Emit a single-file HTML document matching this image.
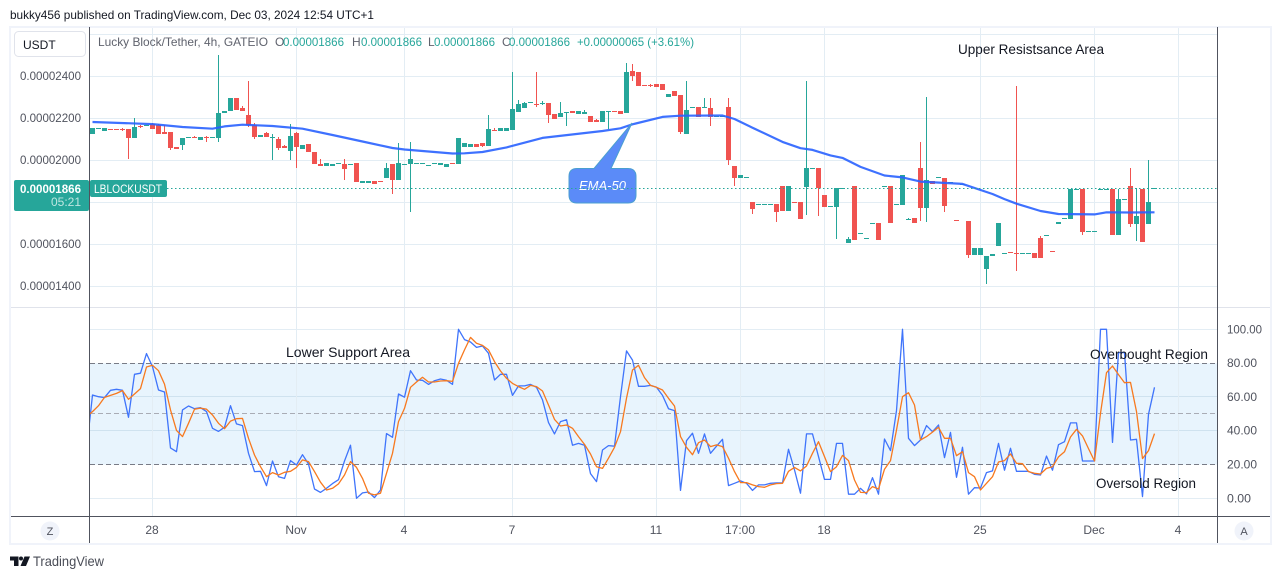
<!DOCTYPE html>
<html lang="en">
<head>
<meta charset="utf-8">
<title>Lucky Block/Tether 4h chart</title>
<style>
html,body{margin:0;padding:0;background:#fff;width:1281px;height:579px;overflow:hidden}
svg{display:block;font-family:"Liberation Sans",Arial,sans-serif}
</style>
</head>
<body>
<svg id="chart" xmlns="http://www.w3.org/2000/svg" width="1281" height="579" viewBox="0 0 1281 579">
  <defs>
    <clipPath id="plot-clip"><rect x="90" y="28" width="1127" height="488"/></clipPath>
  </defs>
  <rect width="1281" height="579" fill="#ffffff"/>
  <text x="10" y="19" font-size="12" fill="#131722" textLength="364" lengthAdjust="spacingAndGlyphs">bukky456 published on TradingView.com, Dec 03, 2024 12:54 UTC+1</text>
  <rect x="10" y="27" width="1261" height="517" fill="none" stroke="#f0f3fa" stroke-width="2"/>

  <rect x="90" y="363.3" width="1127" height="101.4" fill="#e8f4fd"/>
  <g id="grid"></g>
  <line x1="11" x2="1270" y1="307.5" y2="307.5" stroke="#e0e3eb" stroke-width="1"/>
  <g id="bands"></g>
  <g id="candles" clip-path="url(#plot-clip)" shape-rendering="crispEdges"></g>
  <path id="ema-line" fill="none" stroke="#2962ff" stroke-width="2.2" stroke-linejoin="round" stroke-opacity="0.9" clip-path="url(#plot-clip)"/>

  <g>
    <path d="M577 168.5 L594 168.5 L632 123 L611 168.5 L628 168.5 Q636 168.5 636 176.5 L636 195 Q636 203 628 203 L577 203 Q569 203 569 195 L569 176.5 Q569 168.5 577 168.5 Z" fill="#5b8bf8" stroke="#4b9fd0" stroke-width="1"/>
    <text x="602.5" y="190" font-size="13" font-style="italic" fill="#ffffff" text-anchor="middle">EMA-50</text>
  </g>

  <line x1="167" x2="1217" y1="188.5" y2="188.5" stroke="#26a69a" stroke-width="1" stroke-dasharray="1.5 2.5"/>

  <path id="k-line" fill="none" stroke="#3f74fb" stroke-width="1.3" stroke-linejoin="round" clip-path="url(#plot-clip)"/>
  <path id="d-line" fill="none" stroke="#f7791f" stroke-width="1.3" stroke-linejoin="round" clip-path="url(#plot-clip)"/>

  <line x1="89.5" x2="89.5" y1="27" y2="543" stroke="#50535e" stroke-width="1"/>
  <line x1="1217.5" x2="1217.5" y1="27" y2="543" stroke="#50535e" stroke-width="1"/>
  <line x1="11" x2="1270" y1="516.5" y2="516.5" stroke="#50535e" stroke-width="1"/>

  <g id="price-ticks"></g>
  <g id="osc-ticks"></g>
  <g id="time-ticks"></g>

  <g>
    <rect x="14.5" y="31.5" width="71" height="25" rx="4" fill="#ffffff" stroke="#e0e3eb"/>
    <text x="23" y="49" font-size="12" fill="#131722">USDT</text>
  </g>

  <g font-size="12">
    <text x="98" y="46" fill="#5f626d" textLength="170" lengthAdjust="spacingAndGlyphs">Lucky Block/Tether, 4h, GATEIO</text>
    <text x="275" y="46" fill="#5f626d">O</text>
    <text x="283" y="46" fill="#26a69a" textLength="61" lengthAdjust="spacingAndGlyphs">0.00001866</text>
    <text x="352" y="46" fill="#5f626d">H</text>
    <text x="361" y="46" fill="#26a69a" textLength="61" lengthAdjust="spacingAndGlyphs">0.00001866</text>
    <text x="428" y="46" fill="#5f626d">L</text>
    <text x="434" y="46" fill="#26a69a" textLength="61" lengthAdjust="spacingAndGlyphs">0.00001866</text>
    <text x="502" y="46" fill="#5f626d">C</text>
    <text x="509" y="46" fill="#26a69a" textLength="61" lengthAdjust="spacingAndGlyphs">0.00001866</text>
    <text x="577" y="46" fill="#26a69a" textLength="117" lengthAdjust="spacingAndGlyphs">+0.00000065 (+3.61%)</text>
  </g>

  <g>
    <rect x="14" y="180" width="75" height="31" rx="2" fill="#26a69a"/>
    <text x="81" y="193" font-size="12" font-weight="bold" fill="#ffffff" text-anchor="end" textLength="61" lengthAdjust="spacingAndGlyphs">0.00001866</text>
    <text x="81" y="206" font-size="12" fill="#bfe6e1" text-anchor="end">05:21</text>
    <rect x="90" y="180" width="77" height="17" rx="2" fill="#26a69a"/>
    <text x="94" y="193" font-size="12" fill="#ffffff" textLength="68" lengthAdjust="spacingAndGlyphs">LBLOCKUSDT</text>
  </g>

  <g font-size="14" fill="#131722">
    <text x="958" y="54" textLength="146" lengthAdjust="spacingAndGlyphs">Upper Resistsance Area</text>
    <text x="286" y="357" textLength="124" lengthAdjust="spacingAndGlyphs">Lower Support Area</text>
    <text x="1090" y="359" textLength="118" lengthAdjust="spacingAndGlyphs">Overbought Region</text>
    <text x="1096" y="488" textLength="100" lengthAdjust="spacingAndGlyphs">Oversold Region</text>
  </g>

  <g>
    <circle cx="50" cy="531" r="9.5" fill="#f0f3fa"/>
    <text x="50" y="535" font-size="11" fill="#50535e" text-anchor="middle">Z</text>
    <circle cx="1244" cy="531" r="9.5" fill="#f0f3fa"/>
    <text x="1244" y="535" font-size="11" fill="#50535e" text-anchor="middle">A</text>
  </g>

  <g>
    <path d="M10 556.5 H18.5 V566 H14 V560.5 H10 Z" fill="#131722"/>
    <circle cx="21" cy="558.5" r="2" fill="#131722"/>
    <path d="M24.5 556.5 H30 L26 566 H20.5 Z" fill="#131722"/>
    <text x="33" y="566" font-size="14" fill="#4a4d57" textLength="71" lengthAdjust="spacingAndGlyphs">TradingView</text>
  </g>
</svg>

<script>
// Prices are in units of 1e-8 USDT; oscillator values are 0-100.
const opens = [
2124,2150,2138,2150,2150,2148,2148,2105,2162,2165,
2171,2167,2133,2133,2062,2071,2108,2110,2095,2110,
2105,2105,2224,2233,2295,2248,2214,2167,2110,2129,
2108,2100,2067,2043,2129,2052,2076,2038,1981,1971,
1971,1984,1981,1979,1986,1890,1890,1900,1900,1914,
1981,1905,1979,1981,1984,1984,1974,1981,1976,1967,
1986,1981,2062,2062,2076,2081,2067,2143,2138,2138,
2143,2229,2248,2274,2269,2269,2271,2219,2205,2227,
2233,2219,2219,2210,2190,2181,2231,2233,2233,2224,
2424,2419,2359,2359,2362,2362,2300,2329,2310,2124,
2250,2252,2250,2248,2208,2208,2252,1971,1914,1917,
1800,1788,1788,1788,1790,1876,1757,1802,1800,1871,
1960,1962,1833,1779,1776,1865,1605,1876,1650,1627,
1698,1700,1874,1876,1788,1786,1717,1724,1962,1771,
1900,1917,1914,1893,1712,1884,1710,1548,1548,1481,
1543,1590,1555,1564,1559,1555,1555,1557,1629,1641,
1569,1695,1722,1719,1860,1862,1660,1660,1860,1860,
1862,1643,1812,1876,1695,1862,1695,1864];
const highs = [
2152,2152,2152,2150,2150,2152,2150,2200,2165,2167,
2175,2171,2167,2133,2062,2105,2110,2112,2110,2114,
2110,2500,2233,2295,2295,2257,2376,2176,2119,2133,
2124,2110,2071,2171,2133,2071,2076,2038,2005,1986,
1983,1986,2005,1981,1986,1900,1900,1900,1900,1986,
1981,2081,1981,2086,1986,1986,1976,1984,1986,1981,
1986,2105,2081,2076,2076,2081,2214,2152,2152,2152,
2419,2286,2276,2276,2419,2281,2271,2219,2276,2229,
2233,2233,2238,2210,2195,2233,2233,2233,2233,2462,
2457,2419,2359,2362,2362,2362,2314,2329,2310,2376,
2252,2252,2295,2295,2210,2210,2295,1971,1929,1919,
1800,1790,1790,1790,1790,1876,1876,1802,1800,2376,
1962,1962,1833,1781,1867,1867,1633,1876,1652,1629,
1700,1700,1876,1876,1790,1929,1724,1724,2086,2300,
1900,1919,1914,1895,1712,1886,1710,1581,1581,1543,
1552,1700,1557,1564,2352,1557,1557,1557,1638,1643,
1569,1705,1724,1862,1862,1862,1662,1662,1862,1862,
1862,1862,1814,1962,1867,1862,2000,1866];
const lows = [
2124,2150,2138,2148,2148,2138,2005,2105,2152,2165,
2150,2124,2124,2048,2052,2048,2108,2105,2095,2086,
2105,2086,2224,2233,2238,2233,2157,2100,2110,2110,
2000,2048,2057,2000,1962,2052,2038,1981,1971,1971,
1971,1984,1905,1979,1895,1890,1890,1886,1895,1914,
1838,1905,1979,1752,1984,1984,1974,1981,1976,1967,
1981,1981,2062,2062,2062,2062,2067,2141,2138,2138,
2143,2229,2248,2274,2252,2262,2176,2195,2205,2162,
2224,2219,2219,2181,2181,2181,2148,2231,2219,2224,
2376,2352,2357,2348,2348,2333,2300,2305,2124,2124,
2250,2205,2250,2162,2208,2208,1976,1876,1914,1917,
1743,1788,1788,1788,1705,1757,1757,1800,1719,1738,
1960,1733,1776,1779,1624,1865,1605,1619,1650,1627,
1698,1619,1874,1700,1788,1786,1717,1700,1710,1705,
1886,1917,1752,1893,1710,1884,1533,1548,1548,1410,
1543,1590,1555,1562,1471,1555,1555,1533,1533,1641,
1567,1695,1722,1719,1860,1643,1660,1660,1860,1860,
1643,1643,1812,1681,1614,1610,1695,1864];
const closes = [
2152,2152,2152,2148,2148,2143,2105,2157,2157,2167,
2150,2124,2124,2057,2052,2105,2110,2107,2110,2105,
2110,2224,2233,2295,2238,2233,2167,2110,2119,2110,
2110,2057,2057,2114,2062,2071,2038,1981,1971,1986,
1983,1986,1957,1981,1895,1900,1900,1886,1895,1962,
1905,1986,1981,2005,1986,1986,1976,1984,1986,1981,
1981,2105,2081,2076,2062,2067,2148,2141,2152,2152,
2243,2267,2271,2276,2267,2271,2214,2195,2224,2229,
2224,2233,2229,2181,2181,2233,2233,2231,2219,2419,
2400,2352,2357,2357,2348,2333,2314,2305,2133,2238,
2252,2205,2252,2205,2210,2210,2000,1914,1929,1919,
1767,1790,1790,1790,1752,1757,1876,1800,1719,1962,
1962,1867,1776,1781,1867,1867,1624,1619,1652,1629,
1700,1619,1876,1700,1790,1929,1719,1700,1771,1905,
1886,1919,1781,1895,1710,1886,1548,1581,1581,1543,
1552,1700,1557,1562,1557,1557,1557,1533,1533,1643,
1567,1705,1724,1862,1862,1657,1662,1662,1862,1862,
1643,1814,1814,1695,1733,1610,1800,1866];

// EMA-50 read at selected candles.
const emaCandles = [0,10,15,20,22,25,30,35,40,45,50,52,60,62,65,69,75,85,88,90,95,98,105,107,110,115,118,120,123,125,128,132,135,138,145,150,152,154,158,161,167,169,173,177];
const emaValues = [2181,2171,2157,2149,2160,2168,2162,2149,2119,2088,2057,2050,2031,2032,2038,2060,2105,2138,2151,2170,2205,2211,2212,2195,2154,2086,2056,2048,2022,2010,1967,1926,1917,1897,1886,1838,1814,1792,1757,1743,1741,1751,1750,1751];

// Stochastic RSI series; first entry sits one candle before candle 0.
const kValues = [
28.6,61.1,60.1,59.6,63.9,64.5,63.9,47.9,73.4,74,85.6,77.9,64.1,62.9,29.8,27.6,52.3,54.6,53,53.6,
51.3,41.4,39.6,42,54.8,44,43,26.6,15.8,16,7.5,22.1,12.8,11.8,22.3,19.7,25.8,20.3,5.5,3.5,
5.9,8.7,11,22.1,31.4,0,3.2,3.7,0.4,4.9,38.3,36.1,61.7,59.8,75.5,70,69.8,67.4,69.6,70.6,
69.8,67.4,100,93.9,92.5,89.3,90.1,85.8,70,73.4,73.4,60.9,66.5,66.5,67.4,65.7,58.2,44.8,38.1,45.4,
46.5,31.4,32.5,31.4,14.6,9.9,28.6,31.2,30.8,60.1,87.2,81.8,66.3,66.3,66.8,65.7,60.9,53,51.9,4.7,
34.1,38.5,26.6,38.1,26.6,30.8,34.9,7.5,8.9,10.3,8.9,4.7,7.9,7.9,8.9,9.1,9.1,29,16.8,3,
38.1,38.1,24.7,11.2,11.2,32.5,32.5,2.4,2.4,5.9,2.6,12.2,2.4,35.1,28.2,51.9,100,35.5,31.2,34.5,
43,39.4,43.4,24.1,39,12.4,30.2,2.4,6.3,6.1,15.2,16.2,32.5,16.6,29.6,16,16,16,14.2,13.8,
25,16.6,31.7,33.5,44.6,44.6,22.1,22.1,22.1,100,100,33.1,86.2,86.2,34.5,34.9,1,49.7,65.7];
const dValues = [
48.3,51.3,54.8,59.7,60.9,62.1,63.7,58.6,61.7,64.9,77.7,78.7,75.5,67.6,52.3,40.2,36.5,44.4,52.7,53.4,
52.7,49.3,44.4,41.2,45.7,47.1,47.3,35.5,25.6,18.7,12.8,15.2,13.8,15.4,16,18.3,22.7,21.7,15.8,9.5,
4.9,5.9,8.5,13.8,21.7,18.3,11.8,3,2,3,14.8,26.6,45.4,53.2,65.7,68.8,71.6,68.8,68.8,69.4,
69.6,69.2,79.9,87.8,95.2,91.7,90.5,87.8,80.9,75.3,71,68,66.1,64.5,66.8,66.1,63.5,55.2,46.7,42.8,
43.4,41.4,36.5,31.9,26.2,18.7,17.7,23.7,30.2,39.4,59.2,75.9,78.7,71.4,66.8,65.7,64.1,59.2,54.6,36.5,
30.2,25.8,32.9,34.5,30.6,31.6,30.6,23.7,15.8,9.3,9.3,7.9,6.9,6.5,7.9,8.7,8.9,16,18.3,16.2,
19.1,26.6,33.5,24.7,15.8,18.7,25.4,22.3,10.8,3.5,3.4,6.9,5.5,17.2,22.3,40.4,60.1,62.5,55.2,34.5,
36.5,39.2,42,35.5,35.5,25.2,27.6,15.2,12.8,4.9,8.9,12.8,21.5,22.3,26.2,20.7,20.5,15.8,14.8,14.4,
17.7,18.7,24.5,27.6,36.3,40.8,36.9,29.4,22.1,50.3,74.3,78.3,73.2,68.4,68.6,51.3,23.5,28.2,38.3];

// Axis ticks.
const priceGridValues = [2600,2400,2200,2000,1800,1600,1400];
const priceTickValues = [2400,2200,2000,1600,1400];
const oscGridValues = [100,60,40,0];
const oscTickValues = [100,80,60,40,20,0];
const oscLevelValues = [80,50,20];
const timeTickCandles = [10,34,52,70,94,108,122,148,167,181];
const timeTickLabels = ["28","Nov","4","7","11","17:00","18","25","Dec","4"];

const NS = "http://www.w3.org/2000/svg";
const xOf = i => 92.5 + 6 * i;
const priceY = p => 76 + (2400 - p) * 0.21;
const oscY = v => 498.3 - v * 1.69;
const UP = "#26a69a", DOWN = "#f05350";

function make(parent, tag, attrs, text) {
  const el = document.createElementNS(NS, tag);
  for (const k in attrs) el.setAttribute(k, attrs[k]);
  if (text !== undefined) el.textContent = text;
  parent.appendChild(el);
  return el;
}

const grid = document.getElementById("grid");
const GRID = "#e3edf4";
priceGridValues.forEach(v => {
  const y = Math.floor(priceY(v)) + 0.5;
  const el = make(grid, "line", {x1: 90, x2: 1217, y1: y, y2: y, stroke: GRID});
  
  
});
oscGridValues.forEach(v => {
  const y = Math.floor(oscY(v)) + 0.5;
  const el = make(grid, "line", {x1: 90, x2: 1217, y1: y, y2: y, stroke: v === 60 || v === 40 ? "#cfe2ef" : GRID});
  
  
});
timeTickCandles.forEach(i => {
  const x = Math.floor(xOf(i)) + 0.5;
  const el = make(grid, "line", {x1: x, x2: x, y1: 28, y2: 516, stroke: GRID});
  
  
});

const bands = document.getElementById("bands");
oscLevelValues.forEach(v => {
  const y = Math.floor(oscY(v)) + 0.5;
  const el = make(bands, "line", {x1: 90, x2: 1217, y1: y, y2: y,
    stroke: v === 50 ? "#a9acb5" : "#787b86", "stroke-dasharray": "5 3"});
  
  
});

const candleGroup = document.getElementById("candles");
opens.forEach((o, i) => {
  const c = closes[i];
  const color = c >= o ? UP : DOWN;
  const top = Math.round(priceY(Math.max(o, c)));
  const bot = Math.round(priceY(Math.min(o, c)));
  const hi = Math.round(priceY(Math.max(highs[i], o, c)));
  const lo = Math.round(priceY(Math.min(lows[i], o, c)));
  const wick = make(candleGroup, "rect", {x: xOf(i) - 0.5, y: hi, width: 1, height: Math.max(1, lo - hi), fill: color});
  
  
  const body = make(candleGroup, "rect", {x: xOf(i) - 2.5, y: top, width: 5, height: Math.max(1, bot - top), fill: color});
  
  
});

function pathFrom(pts) {
  return pts.map((p, i) => (i ? "L" : "M") + p[0].toFixed(1) + " " + p[1].toFixed(1)).join(" ");
}
document.getElementById("ema-line").setAttribute("d",
  pathFrom(emaValues.map((v, i) => [xOf(emaCandles[i]), priceY(v)])));
document.getElementById("k-line").setAttribute("d",
  pathFrom(kValues.map((v, i) => [xOf(i - 1), oscY(v)])));
document.getElementById("d-line").setAttribute("d",
  pathFrom(dValues.map((v, i) => [xOf(i - 1), oscY(v)])));

const priceTicks = document.getElementById("price-ticks");
priceTickValues.forEach(v => {
  const el = make(priceTicks, "text", {x: 81, y: priceY(v) + 4, "font-size": 12, fill: "#50535e", "text-anchor": "end",
    textLength: 61, lengthAdjust: "spacingAndGlyphs"}, (v / 1e8).toFixed(8));
  
  
});
const oscTicks = document.getElementById("osc-ticks");
oscTickValues.forEach(v => {
  const el = make(oscTicks, "text", {x: 1227, y: oscY(v) + 4, "font-size": 12, fill: "#50535e",
    textLength: v === 100 ? 35 : (v === 0 ? 24 : 30), lengthAdjust: "spacingAndGlyphs"}, v.toFixed(2));
  
  
});
const timeTicks = document.getElementById("time-ticks");
timeTickCandles.forEach((i, n) => {
  const el = make(timeTicks, "text", {x: xOf(i) - 0.5, y: 534, "font-size": 12, fill: "#50535e", "text-anchor": "middle"}, timeTickLabels[n]);
  
  
});
</script>
</body>
</html>
